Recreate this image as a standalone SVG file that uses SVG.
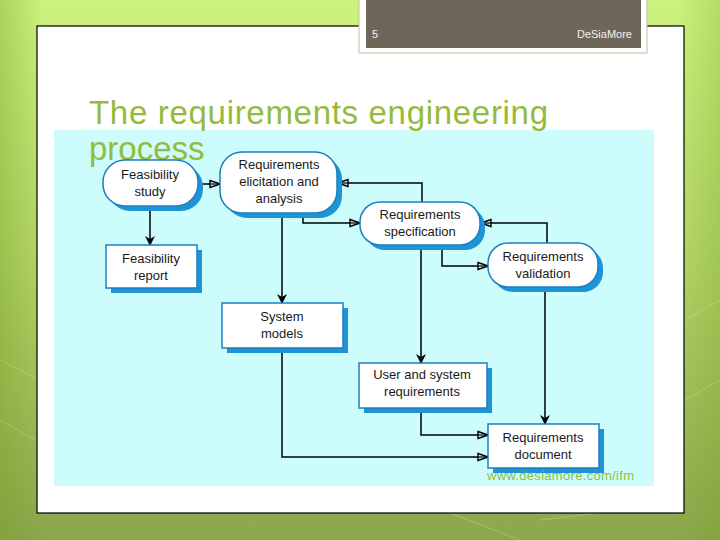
<svg xmlns="http://www.w3.org/2000/svg" width="720" height="540" viewBox="0 0 720 540">
<defs>
<linearGradient id="bg" x1="0" y1="0" x2="0" y2="1">
<stop offset="0" stop-color="#cdf27e"/>
<stop offset="0.5" stop-color="#b2d466"/>
<stop offset="1" stop-color="#8ca64c"/>
</linearGradient>
<linearGradient id="bgh" x1="0" y1="0" x2="1" y2="0">
<stop offset="0" stop-color="#6f9a1c" stop-opacity="0.35"/>
<stop offset="0.06" stop-color="#6f9a1c" stop-opacity="0"/>
<stop offset="0.94" stop-color="#6f9a1c" stop-opacity="0"/>
<stop offset="1" stop-color="#6f9a1c" stop-opacity="0.25"/>
</linearGradient>
<marker id="open" viewBox="0 0 12 10" refX="11" refY="5" markerWidth="12" markerHeight="10" markerUnits="userSpaceOnUse" orient="auto">
<path d="M1,1.5 L11,5 L1,8.5 Z" fill="#ccfcfc" stroke="#000" stroke-width="1.4"/>
<path d="M0,5 H10" stroke="#000" stroke-width="1.2"/>
</marker>
<marker id="solid" viewBox="0 0 10 12" refX="9" refY="6" markerWidth="10" markerHeight="12" markerUnits="userSpaceOnUse" orient="auto">
<path d="M0,1 L10,6 L0,11 L3,6 Z" fill="#000"/>
</marker>
</defs>
<style>
.pill{fill:#fff;stroke:#1b7fc0;stroke-width:1.5}
.shadow{fill:#1e93d6}
.box{fill:#fff;stroke:#1b7fc0;stroke-width:1.5}
.lbl{font-family:"Liberation Sans",Arial,sans-serif;font-size:13px;fill:#1a1a1a;text-anchor:middle}
.conn{fill:none;stroke:#000;stroke-width:1.5}
.h{marker-end:url(#open)}
.v{marker-end:url(#solid)}
</style>
<rect width="720" height="540" fill="url(#bg)"/>
<rect width="720" height="540" fill="url(#bgh)"/>
<g stroke="#e8ffc0" stroke-opacity="0.25" stroke-width="1" fill="none">
<path d="M0,360 L40,380 M0,420 L36,440 M684,320 L720,300 M684,400 L720,380 M450,513 L520,540 M540,520 L600,513"/>
</g>
<rect x="37" y="26" width="647" height="487" fill="#fff" stroke="#000" stroke-width="1.2"/>
<g id="tab">
<rect x="359" y="-2" width="288" height="55" fill="#fff" stroke="#b7c79a" stroke-width="1"/>
<rect x="366" y="-2" width="275" height="50" fill="#6e6658"/>
<text x="372" y="38" font-family="'Liberation Sans',Arial,sans-serif" font-size="11" fill="#f2f2f2">5</text>
<text x="632" y="38" font-family="'Liberation Sans',Arial,sans-serif" font-size="11" fill="#f2f2f2" text-anchor="end">DeSiaMore</text>
</g>
<rect x="54" y="130" width="600" height="356" fill="#ccfcfc"/>
<g id="title" font-family="'Liberation Sans',Arial,sans-serif" font-size="33" fill="#94bb3c">
<text x="89" y="124" textLength="459" lengthAdjust="spacing">The requirements engineering</text>
<text x="89" y="160">process</text>
</g>
<g id="connectors">
<path class="conn h" d="M198,184 H220"/>
<path class="conn v" d="M150,206 V245"/>
<path class="conn h" d="M303,213 V223 H360"/>
<path class="conn h" d="M422,202 V183 H338"/>
<path class="conn v" d="M282,213 V303"/>
<path class="conn h" d="M442,245 V266 H488"/>
<path class="conn h" d="M547,243 V223 H481"/>
<path class="conn v" d="M421,245 V363"/>
<path class="conn v" d="M545,287 V424"/>
<path class="conn h" d="M421,408 V435 H488"/>
<path class="conn h" d="M282,348 V457 H488"/>
</g>
<g id="feasibility-study">
<rect class="shadow" x="108" y="165" width="95" height="46" rx="22"/>
<rect class="pill" x="103" y="160" width="95" height="46" rx="22"/>
<text class="lbl" x="150" y="179">Feasibility</text>
<text class="lbl" x="150" y="196">study</text>
</g>
<g id="elicitation">
<rect class="shadow" x="225" y="157" width="117" height="61" rx="22"/>
<rect class="pill" x="220" y="152" width="117" height="61" rx="22"/>
<text class="lbl" x="279" y="169">Requirements</text>
<text class="lbl" x="279" y="186">elicitation and</text>
<text class="lbl" x="279" y="203">analysis</text>
</g>
<g id="specification">
<rect class="shadow" x="365" y="207" width="120" height="43" rx="20"/>
<rect class="pill" x="360" y="202" width="120" height="43" rx="20"/>
<text class="lbl" x="420" y="219">Requirements</text>
<text class="lbl" x="420" y="236">specification</text>
</g>
<g id="validation">
<rect class="shadow" x="493" y="248" width="110" height="44" rx="20"/>
<rect class="pill" x="488" y="243" width="110" height="44" rx="20"/>
<text class="lbl" x="543" y="261">Requirements</text>
<text class="lbl" x="543" y="278">validation</text>
</g>
<g id="feasibility-report">
<rect class="shadow" x="111" y="250" width="91" height="43"/>
<rect class="box" x="106" y="245" width="91" height="43"/>
<text class="lbl" x="151" y="263">Feasibility</text>
<text class="lbl" x="151" y="280">report</text>
</g>
<g id="system-models">
<rect class="shadow" x="227" y="308" width="121" height="45"/>
<rect class="box" x="222" y="303" width="121" height="45"/>
<text class="lbl" x="282" y="321">System</text>
<text class="lbl" x="282" y="338">models</text>
</g>
<g id="user-system-requirements">
<rect class="shadow" x="364" y="368" width="128" height="45"/>
<rect class="box" x="359" y="363" width="128" height="45"/>
<text class="lbl" x="422" y="379">User and system</text>
<text class="lbl" x="422" y="396">requirements</text>
</g>
<g id="requirements-document">
<rect class="shadow" x="493" y="429" width="111" height="44"/>
<rect class="box" x="488" y="424" width="111" height="44"/>
<text class="lbl" x="543" y="442">Requirements</text>
<text class="lbl" x="543" y="459">document</text>
</g>
<text x="487" y="480" font-family="'Liberation Sans',Arial,sans-serif" font-size="13" fill="#94bb3c" textLength="147" lengthAdjust="spacing">www.desiamore.com/ifm</text>
</svg>
